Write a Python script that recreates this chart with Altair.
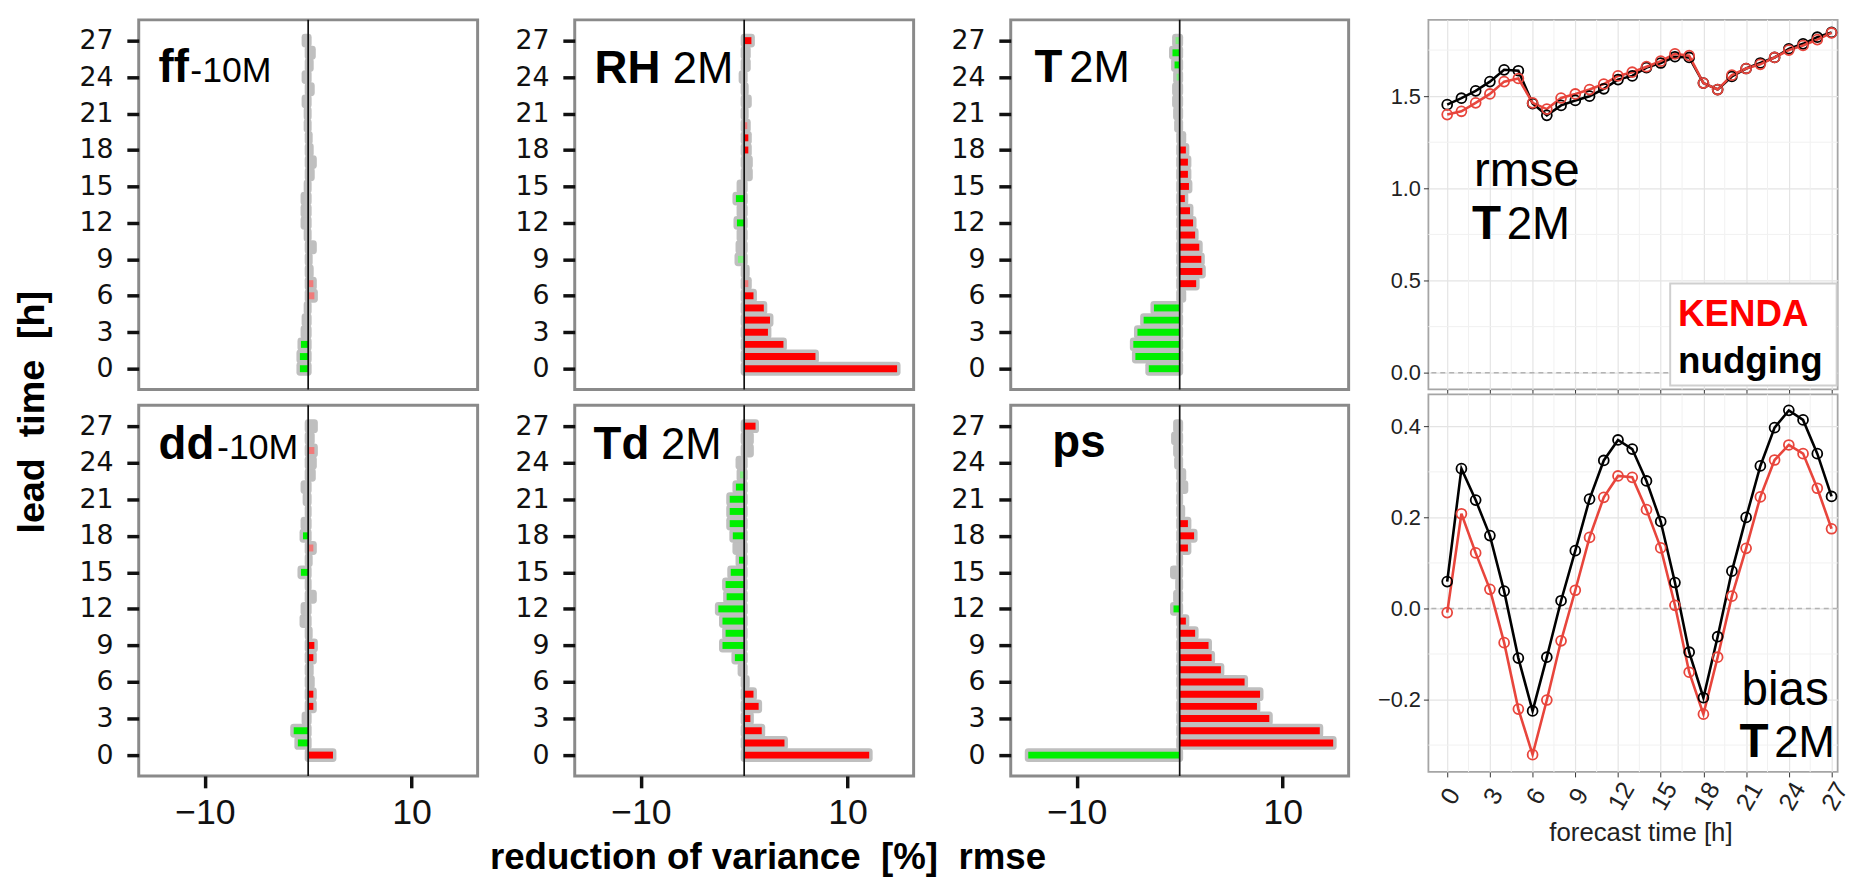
import altair as alt
import pandas as pd

HOURS = list(range(28))

# ---- left panels: reduction of variance of rmse [%] per lead time 0..27 ----
PANEL_BOLD = ["ff", "RH", "T", "dd", "Td", "ps"]
PANEL_SUFFIX = ["-10M", "2M", "2M", "-10M", "2M", ""]

ff_val = [-0.8, -0.8, -0.7, -0.4, -0.3, -0.1, 0.6, 0.5, 0.2, 0.1, 0.5, -0.1, -0.4, -0.4,
          -0.4, -0.1, 0.3, 0.5, 0.2, 0.1, -0.1, -0.1, -0.3, 0.3, -0.3, 0.2, 0.4, -0.3]
ff_sig = "gggnnnllnnnnnnnnnnnnnnnnnnnn"

rh_val = [14.8, 6.9, 3.8, 2.3, 2.5, 1.9, 0.9, 0.4, 0.2, -0.6, -0.5, -0.4, -0.7, -0.4,
          -0.8, -0.4, 0.5, 0.5, 0.4, 0.4, 0.3, 0.1, 0.4, 0.1, -0.2, 0.3, 0.3, 0.7]
rh_sig = "rrrrrrrlnmnngngnnnrrlnnnnnnr"

t_val = [-3.0, -4.3, -4.5, -4.1, -3.5, -2.5, 0.3, 1.6, 2.2, 2.1, 1.9, 1.5, 1.3, 1.0,
         0.5, 0.9, 0.8, 0.8, 0.6, 0.3, -0.2, -0.3, -0.4, -0.4, -0.3, -0.5, -0.7, -0.4]
t_sig = "ggggggnrrrrrrrrrrrrnnnnnmggm"

dd_val = [2.4, -1.0, -1.4, -0.3, 0.5, 0.5, 0.3, 0.2, 0.5, 0.6, 0.1, -0.5, -0.4, 0.5,
          0.0, -0.7, 0.1, 0.5, -0.5, -0.4, 0.0, -0.2, -0.4, 0.4, 0.5, 0.6, 0.3, 0.6]
dd_sig = "rggnrrnnrrnnnnngnlgnnnnnnlnn"

td_val = [12.1, 3.9, 1.7, 0.6, 1.4, 0.9, 0.2, -0.3, -0.9, -2.1, -1.8, -2.1, -2.5, -1.7,
          -1.8, -1.3, -0.5, -0.8, -1.1, -1.4, -1.4, -1.4, -0.8, -0.4, -0.5, 0.6, 0.6, 1.1]
td_sig = "rrrrrrnngggggggggngggggmnnnr"

ps_val = [-14.7, 14.9, 13.6, 8.7, 7.5, 7.8, 6.3, 4.0, 3.1, 2.8, 1.5, 0.6, -0.6, -0.3,
          -0.1, -0.6, 0.0, 0.8, 1.4, 0.8, 0.2, 0.0, 0.5, 0.3, -0.2, -0.3, -0.5, -0.3]
ps_sig = "grrrrrrrrrrrgnnnnrrrnnnnnnnn"

# ---- right panels: T2M scores vs forecast time ----
rmse_nudging = [1.454, 1.489, 1.529, 1.579, 1.643, 1.638, 1.46, 1.396, 1.45, 1.477, 1.50,
                1.54, 1.59, 1.61, 1.655, 1.68, 1.714, 1.71, 1.571, 1.536, 1.607, 1.65,
                1.68, 1.71, 1.757, 1.784, 1.82, 1.846]
rmse_kenda = [1.40, 1.418, 1.464, 1.512, 1.579, 1.596, 1.464, 1.43, 1.49, 1.512, 1.536,
              1.566, 1.61, 1.63, 1.66, 1.69, 1.73, 1.72, 1.571, 1.536, 1.614, 1.65,
              1.673, 1.71, 1.75, 1.775, 1.807, 1.843]
bias_nudging = [0.059, 0.307, 0.238, 0.160, 0.038, -0.109, -0.225, -0.107, 0.017, 0.127,
                0.240, 0.325, 0.370, 0.350, 0.280, 0.191, 0.057, -0.096, -0.196, -0.062,
                0.082, 0.200, 0.313, 0.397, 0.435, 0.414, 0.340, 0.246]
bias_kenda = [-0.009, 0.208, 0.122, 0.042, -0.075, -0.221, -0.321, -0.201, -0.071, 0.040,
              0.156, 0.244, 0.291, 0.288, 0.217, 0.133, 0.007, -0.140, -0.232, -0.107,
              0.027, 0.132, 0.245, 0.326, 0.359, 0.340, 0.264, 0.175]
RUNS = ["nudging", "KENDA"]
X_MAJOR = list(range(0, 28, 3))
X_MINOR = [1.5 + 3 * k for k in range(9)]

FONT = "Liberation Sans"
GRAY = "#bfbfbf"
SIG_DOMAIN = ["r", "g", "l", "m"]
SIG_RANGE = ["#ff0000", "#00f000", "#f07a7a", "#80ee80"]
RUN_COLORS = ["#000000", "#e8453c"]


def one(**kw):
    return pd.DataFrame({k: [v] for k, v in kw.items()})


# label placement (pixels within each panel)
LABEL_POS = [
    (20, 63, 52, 36), (20, 64, 99, 44), (24, 63, 59, 44),
    (20, 54, 79, 36), (19, 54, 87, 44), (42, 52, 0, 44),
]


def bar_panel(i, vals, sig, bottom, w, h):
    df = pd.DataFrame({"h": HOURS, "v": vals, "s": list(sig)})
    xs = alt.Scale(domain=[-16.4, 16.4], nice=False, zero=False, padding=0)
    ys = alt.Scale(domain=[-1.71, 28.71], nice=False, zero=False, padding=0)
    yaxis = alt.Axis(values=X_MAJOR, domain=False, grid=False, ticks=True,
                     tickColor="#111111", tickWidth=3.5, tickSize=12,
                     labelFont="DejaVu Sans", labelFontSize=27, labelColor="#111111",
                     labelPadding=14)
    if bottom:
        xaxis = alt.Axis(values=[-10, 10], domain=False, grid=False, ticks=True,
                         tickColor="#111111", tickWidth=3.5, tickSize=12,
                         labelFont=FONT, labelFontSize=36, labelColor="#111111",
                         labelPadding=8)
    else:
        xaxis = None
    base = alt.Chart(df)
    halo = base.mark_bar(orient="horizontal", size=7, fill=GRAY, stroke=GRAY,
                         strokeWidth=7, strokeJoin="round").encode(
        x=alt.X("v:Q", scale=xs, axis=xaxis, title=None),
        x2=alt.datum(0),
        y=alt.Y("h:Q", scale=ys, axis=yaxis, title=None),
    )
    col = base.transform_filter("datum.s != 'n'").mark_bar(orient="horizontal", size=7).encode(
        x=alt.X("v:Q", scale=xs, title=None),
        x2=alt.datum(0),
        y=alt.Y("h:Q", scale=ys, title=None),
        color=alt.Color("s:N", scale=alt.Scale(domain=SIG_DOMAIN, range=SIG_RANGE), legend=None),
    )
    zero = alt.Chart(one(z=0)).mark_rule(color="#111111", strokeWidth=1.7).encode(
        x=alt.X("z:Q", scale=xs, title=None))
    bx, by, sx, ssize = LABEL_POS[i]
    lab = one(b=PANEL_BOLD[i], s=PANEL_SUFFIX[i])
    layers = [halo, col, zero,
              alt.Chart(lab).mark_text(align="left", baseline="alphabetic", font=FONT,
                                       fontSize=46, fontWeight="bold", color="black").encode(
                  x=alt.value(bx), y=alt.value(by), text="b:N")]
    if PANEL_SUFFIX[i]:
        layers.append(alt.Chart(lab).mark_text(align="left", baseline="alphabetic", font=FONT,
                                               fontSize=ssize, color="black").encode(
            x=alt.value(sx), y=alt.value(by), text="s:N"))
    if i == 0:
        # anchor that fixes the chart origin, plus the shared y title
        layers.append(alt.Chart(one(a=0)).mark_rect(fill="white", opacity=0).encode(
            x=alt.value(-138), x2=alt.value(0), y=alt.value(-14), y2=alt.value(0)))
        layers.append(alt.Chart(one(t="lead\u00a0 time\u00a0 [h]")).mark_text(
            angle=270, align="center", baseline="alphabetic", font=FONT, fontSize=38,
            fontWeight="bold", color="black").encode(
            x=alt.value(-96), y=alt.value(396), text="t:N"))
    if i == 4:
        layers.append(alt.Chart(one(t="reduction of variance\u00a0 [%]\u00a0 rmse")).mark_text(
            align="center", baseline="alphabetic", font=FONT, fontSize=37,
            fontWeight="bold", color="black").encode(
            x=alt.value(195), y=alt.value(468), text="t:N"))
    return alt.layer(*layers).properties(
        width=w, height=h, view=alt.ViewBackground(stroke="#8a8a8a", strokeWidth=3))


def line_panel(kind, w):
    if kind == "rmse":
        nud, ken = rmse_nudging, rmse_kenda
        ydom, ymaj, ymin, h = [-0.091, 1.914], [0.0, 0.5, 1.0, 1.5], [0.25, 0.75, 1.25, 1.75], 373
        xtitle = None
    else:
        nud, ken = bias_nudging, bias_kenda
        ydom, ymaj, ymin, h = [-0.359, 0.47], [-0.2, 0.0, 0.2, 0.4], [-0.3, -0.1, 0.1, 0.3], 381
        xtitle = "forecast time [h]"
    df = pd.DataFrame({"h": HOURS * 2, "v": nud + ken, "run": ["nudging"] * 28 + ["KENDA"] * 28})
    xs = alt.Scale(domain=[-1.32, 27.43], nice=False, zero=False, padding=0)
    ys = alt.Scale(domain=ydom, nice=False, zero=False, padding=0)
    yaxis = alt.Axis(values=ymaj, format=".1f", domain=False, grid=True, gridColor="#e4e4e4",
                     gridWidth=1.2, ticks=True, tickColor="#333333", tickSize=5,
                     labelFont=FONT, labelFontSize=22, labelColor="#222222", labelPadding=3)
    if kind == "rmse":
        xaxis = alt.Axis(values=X_MAJOR, domain=False, grid=True, gridColor="#e4e4e4",
                         gridWidth=1.2, ticks=True, tickColor="#333333", tickSize=4,
                         labels=False)
    else:
        xaxis = alt.Axis(values=X_MAJOR, domain=False, grid=True, gridColor="#e4e4e4",
                         gridWidth=1.2, ticks=True, tickColor="#333333", tickSize=5,
                         labelFont=FONT, labelFontSize=25, labelColor="#222222",
                         labelAngle=300, labelAlign="center", labelBaseline="middle",
                         labelPadding=19, labelOffset=3, labelFlush=8, labelFlushOffset=8,
                         titleFont=FONT, titleFontSize=26,
                         titleFontWeight="normal", titleColor="#222222",
                         titleBaseline="alphabetic", titleY=69, titleX=214)
    color = alt.Color("run:N", scale=alt.Scale(domain=RUNS, range=RUN_COLORS), legend=None)
    base = alt.Chart(df)
    grid_x = alt.Chart(pd.DataFrame({"m": X_MINOR})).mark_rule(color="#f1f1f1", strokeWidth=1).encode(
        x=alt.X("m:Q", scale=xs, axis=xaxis, title=xtitle))
    grid_y = alt.Chart(pd.DataFrame({"m": ymin})).mark_rule(color="#f1f1f1", strokeWidth=1).encode(
        y=alt.Y("m:Q", scale=ys, axis=yaxis, title=None))
    zero = alt.Chart(one(z=0)).mark_rule(color="#b3b3b3", strokeWidth=1.4, strokeDash=[5, 4]).encode(
        y=alt.Y("z:Q", scale=ys, title=None))
    line = base.mark_line(strokeWidth=2.6).encode(
        x=alt.X("h:Q", scale=xs, title=xtitle), y=alt.Y("v:Q", scale=ys, title=None),
        color=color, detail="run:N")
    pts = base.mark_point(shape="circle", filled=False, size=100, strokeWidth=1.8, opacity=1).encode(
        x=alt.X("h:Q", scale=xs, title=xtitle), y=alt.Y("v:Q", scale=ys, title=None), color=color)
    # invisible anchor fixing this panel's left/top bounds
    anchor = alt.Chart(one(a=0)).mark_rect(fill="white", opacity=0).encode(
        x=alt.value(-60), x2=alt.value(0), y=alt.value(-14 if kind == "rmse" else 0), y2=alt.value(0))
    layers = [grid_x, grid_y, zero, line, pts, anchor]
    tb = dict(baseline="alphabetic", align="left", font=FONT, color="black")
    if kind == "rmse":
        layers.append(alt.Chart(one(t="rmse")).mark_text(fontSize=48, **tb).encode(
            x=alt.value(46), y=alt.value(168), text="t:N"))
        layers.append(alt.Chart(one(t="T")).mark_text(fontSize=48, fontWeight="bold", **tb).encode(
            x=alt.value(44), y=alt.value(221), text="t:N"))
        layers.append(alt.Chart(one(t="2M")).mark_text(fontSize=46, **tb).encode(
            x=alt.value(79), y=alt.value(221), text="t:N"))
        layers.append(alt.Chart(one(a=0)).mark_rect(fill="white", stroke="#cfcfcf", strokeWidth=2).encode(
            x=alt.value(244), x2=alt.value(w - 1), y=alt.value(266), y2=alt.value(369)))
        tl = dict(tb, fontSize=37, fontWeight="bold")
        tl_red = dict(tl, color="#ff0000")
        layers.append(alt.Chart(one(t="KENDA")).mark_text(**tl_red).encode(
            x=alt.value(252), y=alt.value(309), text="t:N"))
        layers.append(alt.Chart(one(t="nudging")).mark_text(**tl).encode(
            x=alt.value(252), y=alt.value(356), text="t:N"))
    else:
        layers.append(alt.Chart(one(t="bias")).mark_text(fontSize=48, **tb).encode(
            x=alt.value(316), y=alt.value(313), text="t:N"))
        layers.append(alt.Chart(one(t="T")).mark_text(fontSize=48, fontWeight="bold", **tb).encode(
            x=alt.value(314), y=alt.value(366), text="t:N"))
        layers.append(alt.Chart(one(t="2M")).mark_text(fontSize=44, **tb).encode(
            x=alt.value(349), y=alt.value(366), text="t:N"))
    return alt.layer(*layers).properties(
        width=w, height=h, view=alt.ViewBackground(stroke="#a5a5a5", strokeWidth=1.8))


p_ff = bar_panel(0, ff_val, ff_sig, False, 342, 373)
p_rh = bar_panel(1, rh_val, rh_sig, False, 342, 373)
p_t = bar_panel(2, t_val, t_sig, False, 341, 373)
p_dd = bar_panel(3, dd_val, dd_sig, True, 342, 374)
p_td = bar_panel(4, td_val, td_sig, True, 342, 374)
p_ps = bar_panel(5, ps_val, ps_sig, True, 341, 374)

left = alt.concat(p_ff, p_rh, p_t, p_dd, p_td, p_ps, columns=3,
                  spacing={"row": 16, "column": 98}, bounds="flush")
right = alt.vconcat(line_panel("rmse", 413), line_panel("bias", 413), spacing=5, bounds="flush")

chart = alt.hconcat(left, right, spacing=17.5).resolve_scale(color="independent").properties(
    padding=0, background="white"
).configure(font=FONT)

chart.save("out.html", embed_options={"renderer": "svg", "actions": False})
